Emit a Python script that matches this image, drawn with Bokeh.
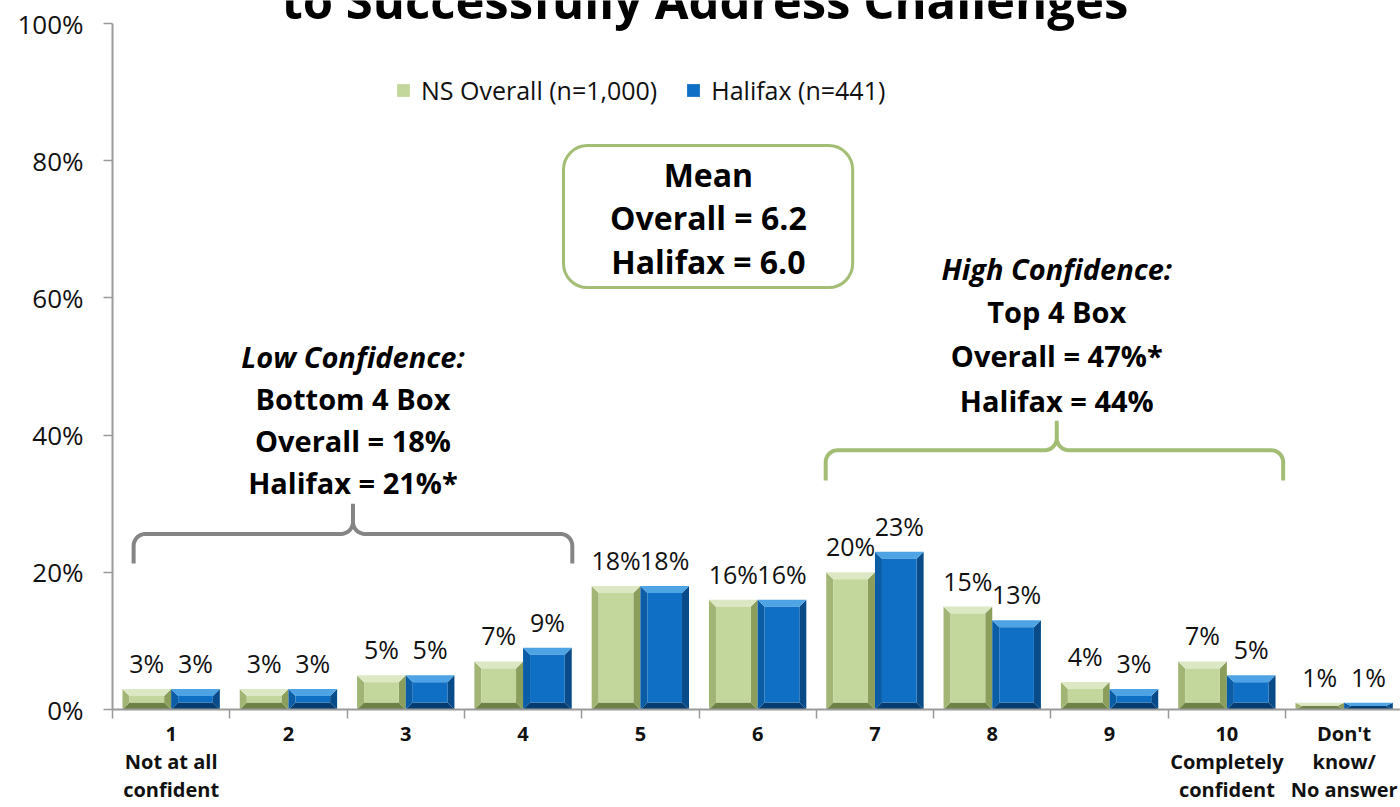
import numpy as np
from bokeh.plotting import figure
from bokeh.models import (ColumnDataSource, FixedTicker, Legend, LegendItem,
                          BoxAnnotation, Range1d)
from bokeh.core.properties import value
from bokeh.embed import file_html
from bokeh.resources import INLINE

# ---------------- data ----------------
categories = ["1\nNot at all\nconfident", "2", "3", "4", "5", "6", "7", "8", "9",
              "10\nCompletely\nconfident", "Don't\nknow/\nNo answer"]
ns_overall = [3, 3, 5, 7, 18, 16, 20, 15, 4, 7, 1]
halifax = [3, 3, 5, 9, 18, 16, 23, 13, 3, 5, 1]
series_names = ["NS Overall (n=1,000)", "Halifax (n=441)"]
y_ticks = [0, 20, 40, 60, 80, 100]
y_tick_labels = ["0%", "20%", "40%", "60%", "80%", "100%"]
title_text = "to Successfully Address Challenges"
mean_lines = ["Mean", "Overall = 6.2", "Halifax = 6.0"]
low_lines = ["Low Confidence:", "Bottom 4 Box", "Overall = 18%", "Halifax = 21%*"]
high_lines = ["High Confidence:", "Top 4 Box", "Overall = 47%*", "Halifax = 44%"]

# ---------------- styles ----------------
FONT = "Open Sans"
W, H = 1400, 807
LEFT, BOTTOM = 112, 98
PX_X = 117.3
PX_Y = 6.86
X_END = (W - LEFT) / PX_X
Y_END = (H - BOTTOM) / PX_Y
BAR_W = 0.415
BEVEL = 7  # px

green = dict(face="#C3D69B", top="#DCE8C3", left="#A2B574", right="#8B9E5C", bottom="#6F8246")
blue = dict(face="#0F6FC4", top="#4EA3E4", left="#0B5DA6", right="#084B88", bottom="#063D70")
AXIS_GREY = "#9A9A9A"
BOX_GREEN = "#A3BE74"

p = figure(width=W, height=H, x_range=Range1d(0, X_END), y_range=Range1d(0, Y_END),
           output_backend="svg", toolbar_location=None,
           min_border_left=LEFT, min_border_right=0, min_border_top=0,
           min_border_bottom=BOTTOM)
p.outline_line_color = None
p.xgrid.grid_line_color = None
p.ygrid.grid_line_color = None
p.background_fill_color = "white"

# ---------------- bars (bevelled) ----------------
xc = np.arange(len(categories)) + 0.5
legend_renderers = []
for vals, off, pal in [(ns_overall, -BAR_W / 2, green), (halifax, BAR_W / 2, blue)]:
    top = np.array(vals, dtype=float)
    left = xc + off - BAR_W / 2
    right = xc + off + BAR_W / 2
    bx = BEVEL / PX_X
    by = np.minimum(BEVEL / PX_Y, top / 2)
    parts = {
        "bottom": ([[l, r, r - bx, l + bx] for l, r in zip(left, right)],
                   [[0, 0, b, b] for b in by]),
        "left": ([[l, l, l + bx, l + bx] for l in left],
                 [[0, t, t - b, b] for t, b in zip(top, by)]),
        "right": ([[r, r, r - bx, r - bx] for r in right],
                  [[0, t, t - b, b] for t, b in zip(top, by)]),
        "top": ([[l, r, r - bx, l + bx] for l, r in zip(left, right)],
                [[t, t, t - b, t - b] for t, b in zip(top, by)]),
    }
    for name, (xs, ys) in parts.items():
        p.patches(xs, ys, fill_color=pal[name], line_color=None)
    face = p.quad(left=left + bx, right=right - bx, bottom=by, top=top - by,
                  fill_color=pal["face"], line_color=None)
    legend_renderers.append(face)
    lab_src = ColumnDataSource(dict(x=xc + off, y=top, t=[f"{v}%" for v in vals]))
    p.text(x="x", y="y", text="t", source=lab_src, text_align="center",
           text_baseline="middle", y_offset=-26, text_font=value(FONT),
           text_font_size="25px", text_color="#111111")

# ---------------- axes ----------------
p.yaxis.ticker = FixedTicker(ticks=y_ticks)
p.yaxis.major_label_overrides = {t: l for t, l in zip(y_ticks, y_tick_labels)}
p.yaxis.bounds = (0, 100)
p.yaxis.axis_line_color = AXIS_GREY
p.yaxis.axis_line_width = 2
p.yaxis.major_tick_line_color = AXIS_GREY
p.yaxis.major_tick_line_width = 1.5
p.yaxis.major_tick_out = 9
p.yaxis.major_tick_in = 0
p.yaxis.minor_tick_line_color = None
p.yaxis.major_label_standoff = 20
p.yaxis.major_label_text_font = FONT
p.yaxis.major_label_text_font_size = "26px"
p.yaxis.major_label_text_color = "#111111"

p.xaxis.axis_label = None
p.xaxis.axis_label_standoff = 0
p.xaxis.ticker = FixedTicker(ticks=list(xc), minor_ticks=list(range(len(categories) + 1)))
p.xaxis.major_label_overrides = {float(x): c for x, c in zip(xc, categories)}
p.xaxis.axis_line_color = AXIS_GREY
p.xaxis.axis_line_width = 2
p.xaxis.major_tick_line_color = None
p.xaxis.major_tick_out = 0
p.xaxis.major_tick_in = 0
p.xaxis.minor_tick_line_color = AXIS_GREY
p.xaxis.minor_tick_line_width = 1.5
p.xaxis.minor_tick_out = 0
p.xaxis.minor_tick_in = -9
p.xaxis.major_label_standoff = 10
p.xaxis.major_label_text_font = FONT
p.xaxis.major_label_text_font_style = "bold"
p.xaxis.major_label_text_font_size = "20px"
p.xaxis.major_label_text_line_height = 1.04
p.xaxis.major_label_text_color = "#111111"

# ---------------- legend ----------------
legend = Legend(items=[LegendItem(label=n, renderers=[r]) for n, r in zip(series_names, legend_renderers)],
                orientation="horizontal", location=(283, 602),
                glyph_width=16, glyph_height=16, label_standoff=10, spacing=28,
                padding=0, margin=0, border_line_color=None, background_fill_alpha=0,
                label_text_font=FONT, label_text_font_size="25px", label_text_color="#111111")
p.add_layout(legend)

# ---------------- title (cut off at top, as in the source) ----------------
p.text(x=[5.05], y=[103.4], text=[title_text], text_align="center", text_baseline="middle",
       text_font=value(FONT), text_font_style="bold", text_font_size="49px", text_color="black")

# ---------------- mean box ----------------
p.add_layout(BoxAnnotation(left=3.845, right=6.31, bottom=61.5, top=82.2,
                           fill_color=None, fill_alpha=0,
                           line_color=BOX_GREEN, line_alpha=1, line_width=3, border_radius=24))
p.text(x=[5.08] * 3, y=[78.0, 71.7, 65.3], text=mean_lines, text_align="center",
       text_baseline="middle", text_font=value(FONT), text_font_style="bold",
       text_font_size="32px", text_color="black")


# ---------------- braces ----------------
def brace(x0, x1, xm, y_line, y_end, y_tip, r_px=12, n=10):
    rx, ry = r_px / PX_X, r_px / PX_Y
    xs, ys = [x0], [y_end]
    a = np.linspace(np.pi, np.pi / 2, n)
    xs += list(x0 + rx + rx * np.cos(a)); ys += list(y_line - ry + ry * np.sin(a))
    a = np.linspace(-np.pi / 2, 0, n)
    xs += list(xm - rx + rx * np.cos(a)); ys += list(y_line + ry + ry * np.sin(a))
    xs += [xm]; ys += [y_tip]
    a = np.linspace(np.pi, 3 * np.pi / 2, n)
    xs += list(xm + rx + rx * np.cos(a)); ys += list(y_line + ry + ry * np.sin(a))
    a = np.linspace(np.pi / 2, 0, n)
    xs += list(x1 - rx + rx * np.cos(a)); ys += list(y_line - ry + ry * np.sin(a))
    xs += [x1]; ys += [y_end]
    return xs, ys


bx_, by_ = brace(0.18, 3.92, 2.05, 25.6, 21.3, 30.0)
p.line(bx_, by_, line_color="#858585", line_width=4)
bx_, by_ = brace(6.08, 9.98, 8.05, 37.8, 33.4, 42.1)
p.line(bx_, by_, line_color=BOX_GREEN, line_width=4)

# ---------------- group texts ----------------
for lines, xpos, ys in [(low_lines, 2.05, [51.5, 45.3, 39.2, 33.1]),
                        (high_lines, 8.05, [64.3, 58.0, 51.6, 45.0])]:
    p.text(x=[xpos], y=[ys[0]], text=[lines[0]], text_align="center", text_baseline="middle",
           text_font=value(FONT), text_font_style="bold italic", text_font_size="29px",
           text_color="black")
    p.text(x=[xpos] * 3, y=ys[1:], text=lines[1:], text_align="center", text_baseline="middle",
           text_font=value(FONT), text_font_style="bold", text_font_size="29px",
           text_color="black")

open("out.html", "w").write(file_html(p, INLINE))
